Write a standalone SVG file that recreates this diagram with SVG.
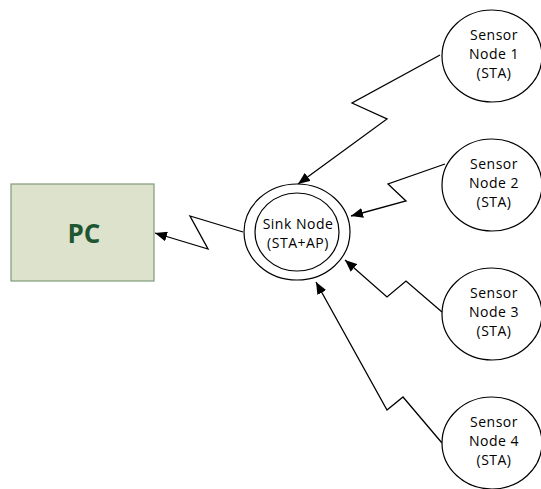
<svg xmlns="http://www.w3.org/2000/svg" width="541" height="489" viewBox="0 0 541 489">
<defs>
<marker id="arr" markerUnits="userSpaceOnUse" markerWidth="14" markerHeight="10" refX="12" refY="5" orient="auto">
<path d="M0,0 L12,5 L0,10 Z" fill="#000"/>
</marker>
<style>
.n{fill:#fff;stroke:#000;stroke-width:1.2}
.t{font-family:"Open Sans","DejaVu Sans",sans-serif;font-size:14px;letter-spacing:0.5px;fill:#000;text-anchor:middle}
.c{fill:none;stroke:#000;stroke-width:1.3;marker-end:url(#arr)}
</style>
</defs>
<rect width="541" height="489" fill="#fff"/>
<g id="connectors">
<polyline class="c" points="440,55 352,103 387,119 298,184"/>
<polyline class="c" points="445,164 388,184 406,201 351,216"/>
<polyline class="c" points="442,312 406,281 387,297 345,260"/>
<polyline class="c" points="442,443 403,397 387,410 316,282"/>
<polyline class="c" points="243,232 190,216 208,249 155,233"/>
</g>
<g id="pc">
<rect x="11" y="184" width="143" height="97" fill="#dde2cc" stroke="#7f9c78" stroke-width="1.2"/>
<text x="84" y="243" font-family="'Open Sans','DejaVu Sans',sans-serif" font-size="26" font-weight="bold" fill="#1e5631" text-anchor="middle">PC</text>
</g>
<g id="sink">
<ellipse class="n" cx="297" cy="232" rx="53" ry="48"/>
<ellipse class="n" cx="297" cy="232" rx="42" ry="39"/>
<text class="t" x="298" y="229">Sink Node</text>
<text class="t" x="298" y="248">(STA+AP)</text>
</g>
<g id="sensor1">
<ellipse class="n" cx="492" cy="56" rx="50" ry="46"/>
<text class="t" x="494" y="40">Sensor</text>
<text class="t" x="494" y="59">Node 1</text>
<text class="t" x="494" y="78">(STA)</text>
</g>
<g id="sensor2">
<ellipse class="n" cx="492" cy="185" rx="50" ry="46"/>
<text class="t" x="494" y="169">Sensor</text>
<text class="t" x="494" y="188">Node 2</text>
<text class="t" x="494" y="207">(STA)</text>
</g>
<g id="sensor3">
<ellipse class="n" cx="492" cy="314" rx="50" ry="46"/>
<text class="t" x="494" y="298">Sensor</text>
<text class="t" x="494" y="317">Node 3</text>
<text class="t" x="494" y="336">(STA)</text>
</g>
<g id="sensor4">
<ellipse class="n" cx="492" cy="443" rx="50" ry="46"/>
<text class="t" x="494" y="427">Sensor</text>
<text class="t" x="494" y="446">Node 4</text>
<text class="t" x="494" y="465">(STA)</text>
</g>
</svg>
